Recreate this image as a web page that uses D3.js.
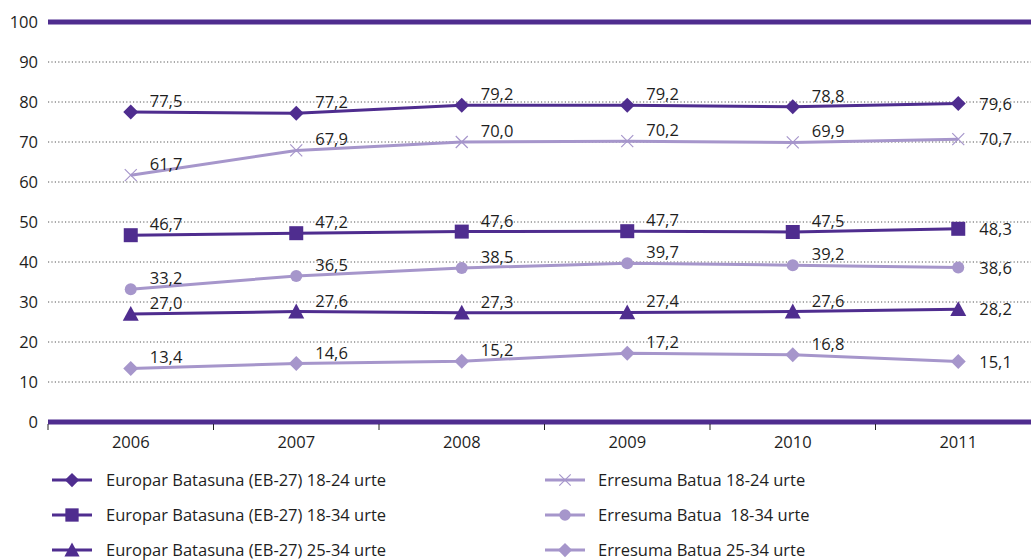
<!DOCTYPE html>
<html>
<head>
<meta charset="utf-8">
<script src="https://cdn.jsdelivr.net/npm/d3@7"></script>
<style>
  html, body { margin: 0; padding: 0; background: #fff; }
  svg { display: block; font-family: "Open Sans", "Noto Sans", sans-serif; }
</style>
</head>
<body>
<svg id="chart" width="1031" height="560"></svg>
<script>
// Years on the horizontal axis
const years = ["2006", "2007", "2008", "2009", "2010", "2011"];

// Series values (percent)
const eu1824 = [77.5, 77.2, 79.2, 79.2, 78.8, 79.6];
const uk1824 = [61.7, 67.9, 70.0, 70.2, 69.9, 70.7];
const eu1834 = [46.7, 47.2, 47.6, 47.7, 47.5, 48.3];
const uk1834 = [33.2, 36.5, 38.5, 39.7, 39.2, 38.6];
const eu2534 = [27.0, 27.6, 27.3, 27.4, 27.6, 28.2];
const uk2534 = [13.4, 14.6, 15.2, 17.2, 16.8, 15.1];

// Series names as shown in the legend
const seriesNames = [
  "Europar Batasuna (EB-27) 18-24 urte",
  "Europar Batasuna (EB-27) 18-34 urte",
  "Europar Batasuna (EB-27) 25-34 urte",
  "Erresuma Batua 18-24 urte",
  "Erresuma Batua  18-34 urte",
  "Erresuma Batua 25-34 urte"
];

const yTicks = [0, 10, 20, 30, 40, 50, 60, 70, 80, 90, 100];

const dark = "#4f2d8f";
const light = "#a696cb";
const fontSize = 16.5;
const textColor = "#1e1e1e";

const series = [
  { name: seriesNames[0], values: eu1824, color: dark, marker: "diamond" },
  { name: seriesNames[1], values: eu1834, color: dark, marker: "square" },
  { name: seriesNames[2], values: eu2534, color: dark, marker: "triangle" },
  { name: seriesNames[3], values: uk1824, color: light, marker: "cross" },
  { name: seriesNames[4], values: uk1834, color: light, marker: "circle" },
  { name: seriesNames[5], values: uk2534, color: light, marker: "diamond" }
];

const svg = d3.select("#chart");
const plotLeft = 48, plotRight = 1031, plotTop = 22, plotBottom = 422;

const x = d3.scaleBand().domain(years).range([plotLeft, plotLeft + 6 * 165.5]);
const y = d3.scaleLinear().domain([0, 100]).range([plotBottom, plotTop]);

// Dotted grid lines
svg.append("g").selectAll("line")
  .data(yTicks.filter(t => t > 0 && t < 100))
  .join("line")
  .attr("x1", plotLeft).attr("x2", plotRight)
  .attr("y1", d => y(d)).attr("y2", d => y(d))
  .attr("stroke", "#555").attr("stroke-width", 1)
  .attr("stroke-dasharray", "1.2,2.2");

// Thick top and bottom rules
[0, 100].forEach(v => {
  svg.append("line")
    .attr("x1", plotLeft).attr("x2", plotRight)
    .attr("y1", y(v)).attr("y2", y(v))
    .attr("stroke", dark).attr("stroke-width", 5);
});

// Y axis labels
const yAxis = d3.axisLeft(y).tickValues(yTicks).tickSize(0).tickPadding(10).tickFormat(d3.format("d"));
const gy = svg.append("g").attr("transform", `translate(${plotLeft},0)`).call(yAxis);
gy.select(".domain").remove();
gy.selectAll("text").attr("font-size", fontSize).attr("fill", textColor)
  .attr("font-family", "'Open Sans', sans-serif");

// X axis with ticks between categories
const boundaries = d3.range(years.length + 1).map(i => x.range()[0] + i * x.step());
svg.append("g").selectAll("line")
  .data(boundaries.filter(b => b <= plotRight))
  .join("line")
  .attr("x1", d => d).attr("x2", d => d)
  .attr("y1", plotBottom + 2).attr("y2", plotBottom + 8)
  .attr("stroke", "#222").attr("stroke-width", 1);

const xAxis = d3.axisBottom(x).tickSize(0).tickPadding(14);
const gx = svg.append("g").attr("transform", `translate(0,${plotBottom})`).call(xAxis);
gx.select(".domain").remove();
gx.selectAll("text").attr("font-size", fontSize).attr("fill", textColor)
  .attr("font-family", "'Open Sans', sans-serif");

// Marker drawing
function drawMarker(g, type, color, cx, cy, scale) {
  const s = scale || 1;
  if (type === "diamond") {
    const r = 7.5 * s;
    g.append("path").attr("d", `M${cx},${cy - r}L${cx + r},${cy}L${cx},${cy + r}L${cx - r},${cy}Z`).attr("fill", color);
  } else if (type === "square") {
    const r = 7 * s;
    g.append("rect").attr("x", cx - r).attr("y", cy - r).attr("width", 2 * r).attr("height", 2 * r).attr("fill", color);
  } else if (type === "triangle") {
    const r = 8 * s;
    g.append("path").attr("d", `M${cx},${cy - r}L${cx + r},${cy + r * 0.85}L${cx - r},${cy + r * 0.85}Z`).attr("fill", color);
  } else if (type === "circle") {
    g.append("circle").attr("cx", cx).attr("cy", cy).attr("r", 6 * s).attr("fill", color);
  } else if (type === "cross") {
    const r = 6 * s;
    g.append("path").attr("d", `M${cx - r},${cy - r}L${cx + r},${cy + r}M${cx - r},${cy + r}L${cx + r},${cy - r}`)
      .attr("stroke", color).attr("stroke-width", 1.2).attr("fill", "none");
  }
}

const fmt = v => d3.format(".1f")(v).replace(".", ",");
const cx = d => x(d) + x.bandwidth() / 2;

const line = d3.line().x((d, i) => cx(years[i])).y(d => y(d));

series.forEach(s => {
  const g = svg.append("g");
  g.append("path").datum(s.values).attr("d", line)
    .attr("fill", "none").attr("stroke", s.color).attr("stroke-width", 3);
  s.values.forEach((v, i) => {
    drawMarker(g, s.marker, s.color, cx(years[i]), y(v));
  });
  // value labels
  s.values.forEach((v, i) => {
    const last = i === years.length - 1;
    g.append("text")
      .attr("x", cx(years[i]) + (last ? 21 : 19))
      .attr("y", y(v) + (last ? 6 : -5))
      .attr("font-size", fontSize).attr("fill", textColor)
      .attr("font-family", "'Open Sans', sans-serif")
      .text(fmt(v));
  });
});

// Legend
const legendRows = [480, 515, 550];
series.forEach((s, i) => {
  const col = i < 3 ? 0 : 1;
  const row = i % 3;
  const lx = col === 0 ? 52 : 545;
  const ly = legendRows[row];
  const g = svg.append("g");
  g.append("line").attr("x1", lx).attr("x2", lx + 40).attr("y1", ly).attr("y2", ly)
    .attr("stroke", s.color).attr("stroke-width", 3);
  drawMarker(g, s.marker, s.color, lx + 20, ly, 0.95);
  g.append("text").attr("x", col === 0 ? 106 : 598).attr("y", ly + 6)
    .attr("font-size", fontSize).attr("fill", textColor)
    .attr("font-family", "'Open Sans', sans-serif")
    .style("white-space", "pre")
    .text(s.name);
});
</script>
</body>
</html>
